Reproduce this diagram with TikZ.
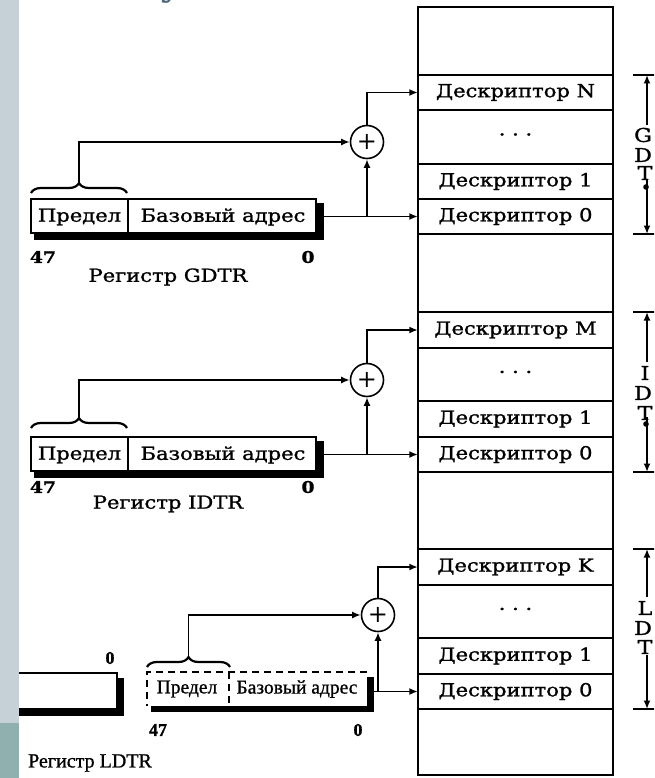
\documentclass[tikz,border=0pt]{standalone}
\usepackage{fontspec}
\setmainfont{DejaVu Serif}
\newfontfamily\bk[FakeStretch=1.17,FakeBold=1.3]{DejaVu Serif}
\newfontfamily\tm[FakeBold=1.0]{Liberation Serif}
\usetikzlibrary{arrows.meta,decorations.pathreplacing}
\definecolor{stripgray}{HTML}{C6D1D7}
\definecolor{stripteal}{HTML}{8FB0AF}
\definecolor{titlecol}{HTML}{4A6878}
\begin{document}
\begin{tikzpicture}[x=1pt,y=-1pt,
  ln/.style={line width=1.6pt},
  arr/.style={line width=1.6pt,-{Latex[length=8.5pt,width=7pt]}},
  cell/.style={minimum width=195pt,minimum height=35pt,inner sep=0pt,font=\bk\fontsize{18}{18}\selectfont},
  regtxt/.style={font=\bk\fontsize{18}{18}\selectfont,inner sep=0pt},
  ldtxt/.style={font=\tm\fontsize{19.5}{19.5}\selectfont,inner sep=0pt},
  num/.style={font=\bk\bfseries\fontsize{16}{16}\selectfont,inner sep=0pt},
  ldnum/.style={font=\tm\bfseries\fontsize{18}{18}\selectfont,inner sep=0pt},
  adder/.style={circle,draw,line width=1.6pt,minimum size=33pt,inner sep=0pt,fill=white,font=\fontsize{24}{24}\selectfont},
  brc/.style={decorate,decoration={brace,amplitude=10pt},line width=2.2pt},
  side/.style={font=\bk\fontsize{19}{19}\selectfont,inner sep=0pt},
  ttl/.style={font=\fontsize{40}{40}\selectfont,text=titlecol,anchor=base,inner sep=0pt}]
\useasboundingbox (0,0) rectangle (654,778);
\clip (0,0) rectangle (654,778);
\fill[white] (0,0) rectangle (654,778);
% left strip
\fill[stripgray] (0,0) rectangle (19,723);
\fill[stripteal] (0,723) rectangle (19,778);
% cut-off title
\node[ttl] (t1) at (172,-5) {у};
\node[ttl] (t2) at (342,-5) {д};

% memory column
\draw[ln] (418,7) rectangle (613,775);
\foreach \yy in {75,110,164,199,234,312,348,401,437,472,549,585,638,674,709}
  \draw[ln] (418,\yy) -- (613,\yy);
\node[cell] (gN) at (515.5,92.5) {Дескриптор N};
\node[cell] (gD) at (515.5,137) {· · ·};
\node[cell] (g1) at (515.5,181.5) {Дескриптор 1};
\node[cell] (g0) at (515.5,216.5) {Дескриптор 0};
\node[cell] (iM) at (515.5,330) {Дескриптор M};
\node[cell] (iD) at (515.5,374.5) {· · ·};
\node[cell] (i1) at (515.5,419) {Дескриптор 1};
\node[cell] (i0) at (515.5,454.5) {Дескриптор 0};
\node[cell] (lK) at (515.5,567) {Дескриптор K};
\node[cell] (lD) at (515.5,611.5) {· · ·};
\node[cell] (l1) at (515.5,656) {Дескриптор 1};
\node[cell] (l0) at (515.5,691.5) {Дескриптор 0};

% right-hand size marks
\foreach \ya/\yb in {75/234,312/472,549/709}{
  \draw[ln] (633,\ya) -- (660,\ya);
  \draw[ln] (633,\yb) -- (660,\yb);
}
\coordinate (gTa) at (647,75);  \coordinate (gTb) at (647,234);
\coordinate (gTc) at (647,125); \coordinate (gTd) at (647,180);
\draw[arr] (gTc) -- (gTa);
\draw[arr] (gTd) -- (gTb);
\fill (646,187) circle (2.8);
\node[side] (gG) at (643,135) {G};
\node[side] (gDl) at (643,155) {D};
\node[side] (gTl) at (645,173) {T};
\coordinate (iTa) at (647,312); \coordinate (iTb) at (647,472);
\coordinate (iTc) at (647,362); \coordinate (iTd) at (647,417);
\draw[arr] (iTc) -- (iTa);
\draw[arr] (iTd) -- (iTb);
\fill (646,424) circle (2.8);
\node[side] (iI) at (645,373) {I};
\node[side] (iDl) at (643,393) {D};
\node[side] (iTl) at (645,413) {T};
\coordinate (lTa) at (647,549); \coordinate (lTb) at (647,709);
\coordinate (lTc) at (647,597); \coordinate (lTd) at (647,655);
\draw[arr] (lTc) -- (lTa);
\draw[arr] (lTd) -- (lTb);
\node[side] (lL) at (645,608) {L};
\node[side] (lDl) at (643,628) {D};
\node[side] (lTl) at (645,647) {T};

% ---------- GDTR ----------
\fill (34,203) rectangle (324,240);
\node[draw,ln,fill=white,minimum width=285pt,minimum height=34pt,inner sep=0pt] (gR) at (173.5,216) {};
\draw[ln] (128,199) -- (128,233);
\node[regtxt] (gP) at (79.5,217) {Предел};
\node[regtxt] (gB) at (223,217) {Базовый адрес};
\node[num] (g47) at (43,257) {47};
\node[num] (g00) at (308,257) {0};
\node[regtxt] (gL) at (168,277) {Регистр GDTR};
\draw[brc] (31,193) -- (127,193);
\coordinate (gBt) at (79,182);
\node[adder] (gC) at (367,142) {+};
\coordinate (gS) at (324,216.5);
\coordinate (gJ) at (367,216.5);
\draw[arr] (gS) -- (g0.west);
\draw[arr] (gJ) -- (gC.south);
\draw[arr] (gBt) |- (gC.west);
\draw[arr] (gC.north) |- (gN.west);

% ---------- IDTR ----------
\fill (34,441) rectangle (324,478);
\node[draw,ln,fill=white,minimum width=285pt,minimum height=34pt,inner sep=0pt] (iR) at (173.5,454) {};
\draw[ln] (128,437) -- (128,471);
\node[regtxt] (iP) at (79.5,455) {Предел};
\node[regtxt] (iB) at (223,455) {Базовый адрес};
\node[num] (i47) at (43,487) {47};
\node[num] (i00) at (308,487) {0};
\node[regtxt] (iL) at (168,504) {Регистр IDTR};
\draw[brc] (31,428) -- (127,428);
\coordinate (iBt) at (79,417);
\node[adder] (iC) at (367,380) {+};
\coordinate (iS) at (324,454.5);
\coordinate (iJ) at (367,454.5);
\draw[arr] (iS) -- (i0.west);
\draw[arr] (iJ) -- (iC.south);
\draw[arr] (iBt) |- (iC.west);
\draw[arr] (iC.north) |- (iM.west);

% ---------- LDTR ----------
% partial solid register on the left
\fill (19,678) rectangle (124,716);
\fill[white] (19,673) rectangle (117,708);
\draw[ln] (19,673) -- (117,673) -- (117,708);
\node[ldnum] (lz) at (110,658) {0};
% dashed register
\fill (151,677) rectangle (374,712);
\fill[white] (147,672) rectangle (367,706);
\draw[ln,dash pattern=on 7pt off 5pt] (367,672) -- (147,672) -- (147,706);
\draw[ln,dash pattern=on 7pt off 5pt] (229,672) -- (229,706);
\node[ldtxt] (lP) at (187,689) {Предел};
\node[ldtxt] (lB) at (297,689) {Базовый адрес};
\node[ldnum] (l47) at (158,730) {47};
\node[ldnum] (l00) at (358,730) {0};
\node[font=\tm\fontsize{20}{20}\selectfont,inner sep=0pt] (lL2) at (90,763) {Регистр LDTR};
\draw[brc] (147,667) -- (230,667);
\coordinate (lBt) at (188.5,656);
\node[adder] (lC) at (378,615) {+};
\coordinate (lS) at (374,691.5);
\coordinate (lJ) at (378,691.5);
\draw[arr] (lS) -- (l0.west);
\draw[arr] (lJ) -- (lC.south);
\draw[arr] (lBt) |- (lC.west);
\draw[arr] (lC.north) |- (lK.west);
\end{tikzpicture}
\end{document}
